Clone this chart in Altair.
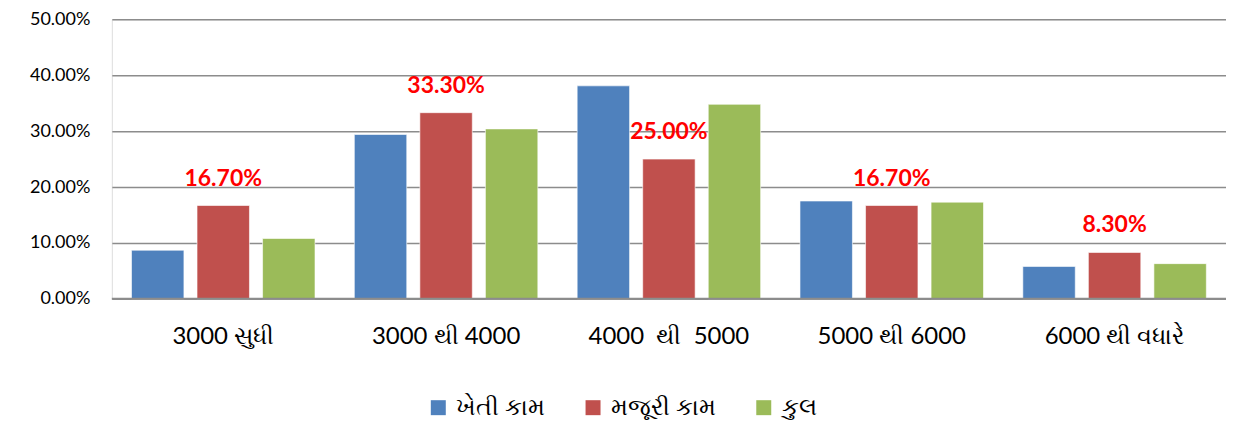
import altair as alt
import pandas as pd

categories = ["3000 સુધી", "3000 થી 4000", "4000\u00a0 થી\u00a0 5000", "5000 થી 6000", "6000 થી વધારે"]
series = ["ખેતી કામ", "મજૂરી કામ", "કુલ"]
kheti = [0.087, 0.294, 0.381, 0.175, 0.058]
majuri = [0.167, 0.333, 0.250, 0.167, 0.083]
kul = [0.108, 0.304, 0.348, 0.173, 0.063]
colors = ["#4F81BD", "#C0504D", "#9BBB59"]

rows = []
for i, c in enumerate(categories):
    for s, vals in zip(series, [kheti, majuri, kul]):
        rows.append({"cat": c, "series": s, "value": vals[i]})
df = pd.DataFrame(rows)

FONT = "Lato"

x = alt.X("cat:N", sort=categories, title=None,
          scale=alt.Scale(paddingInner=0, paddingOuter=0),
          axis=alt.Axis(labelAngle=0, labelFontSize=24, labelColor="#000000",
                        labelPadding=26, ticks=False, domain=False, labelFont=FONT))
xo = alt.XOffset("series:N", sort=series,
                 scale=alt.Scale(paddingInner=0.2, paddingOuter=0.3))
y = alt.Y("value:Q", title=None,
          scale=alt.Scale(domain=[0, 0.5]),
          axis=alt.Axis(format=".2%", values=[0, 0.1, 0.2, 0.3, 0.4, 0.5],
                        labelFontSize=18, labelColor="#000000", labelPadding=22,
                        ticks=False, domain=False, gridColor="#8c8c8c",
                        gridWidth=1.5, labelFont=FONT))

bars = alt.Chart(df).mark_bar(stroke="white", strokeWidth=0.6).encode(
    x=x, xOffset=xo, y=y,
    color=alt.Color("series:N", sort=series,
                    scale=alt.Scale(domain=series, range=colors),
                    legend=alt.Legend(title=None, orient="none", direction="horizontal",
                                      legendX=315, legendY=377,
                                      symbolType="square", symbolSize=225,
                                      symbolStrokeWidth=0, labelFontSize=24,
                                      labelFont=FONT, labelColor="#000000",
                                      columnPadding=35, symbolOffset=0, labelOffset=6)),
)

labels = alt.Chart(df[df["series"] == series[1]]).mark_text(
    color="#FF0000", fontWeight="bold", fontSize=23, font=FONT, dy=-27, baseline="middle"
).encode(x=x, xOffset=xo, y=y, text=alt.Text("value:Q", format=".2%"))

zero = alt.Chart(pd.DataFrame({"v": [0]})).mark_rule(color="#8c8c8c", strokeWidth=2).encode(
    y=alt.Y("v:Q", scale=alt.Scale(domain=[0, 0.5]))
)

chart = alt.layer(bars, zero, labels).properties(
    width=1116, height=280,
    autosize=alt.AutoSizeParams(type="none"),
    padding={"left": 104, "top": 11, "right": 0, "bottom": 122},
).configure_view(stroke=None).configure(font=FONT)

chart.save("out.html", embed_options={"renderer": "svg", "actions": False})
